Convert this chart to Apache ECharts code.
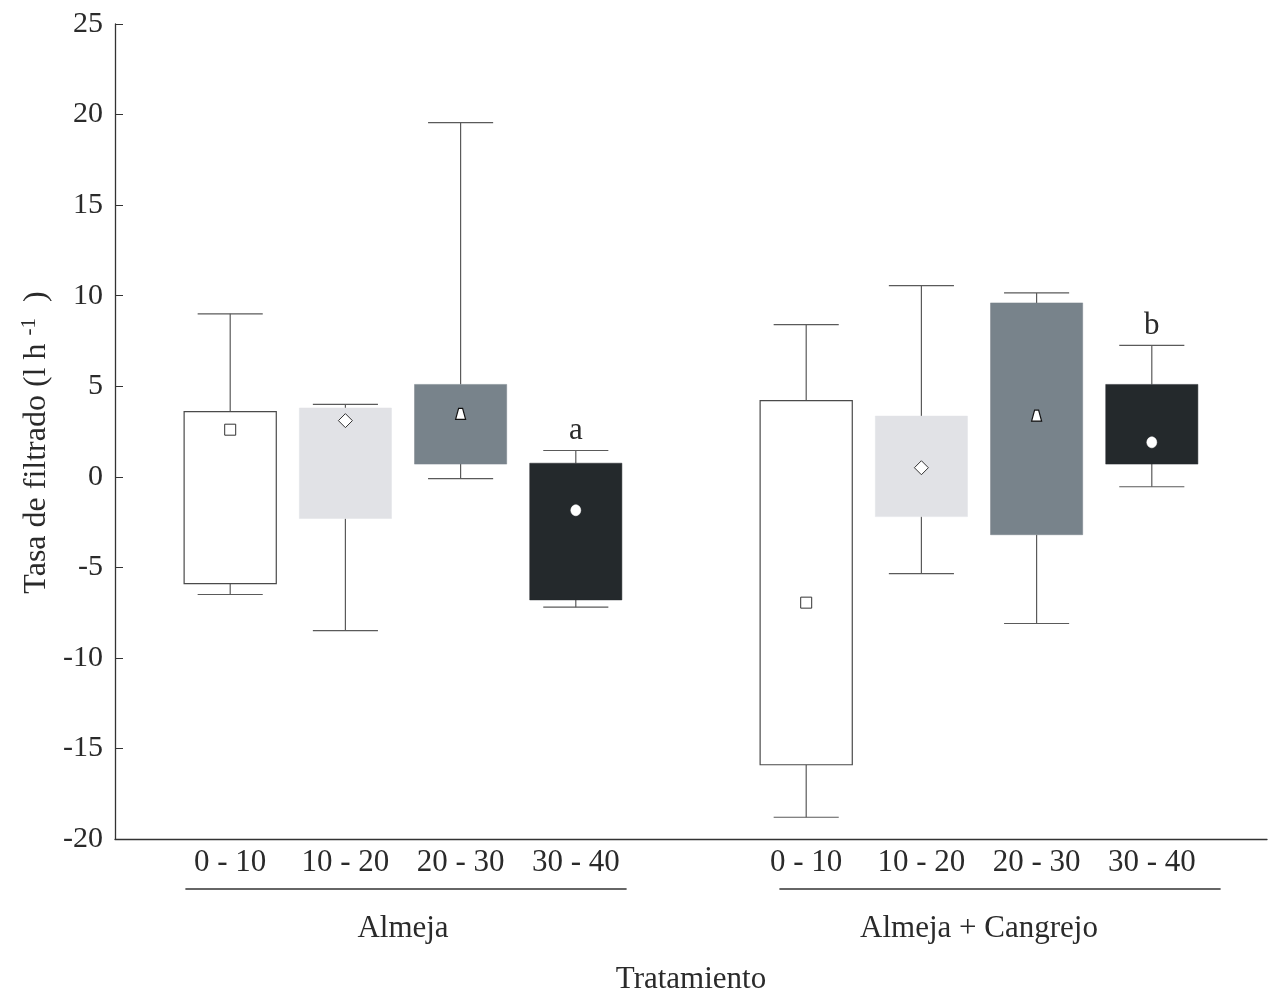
<!DOCTYPE html>
<html><head><meta charset="utf-8">
<script src="https://cdn.jsdelivr.net/npm/echarts@6/dist/echarts.min.js"></script>
<style>html,body{margin:0;padding:0;background:#fff}#c{width:1274px;height:994px}</style>
</head><body><div id="c"></div>
<script>
// ---- data ----
var groups = ['Almeja', 'Almeja + Cangrejo'];
var sizeClasses = ['0 - 10', '10 - 20', '20 - 30', '30 - 40'];
var yTickValues = [-20, -15, -10, -5, 0, 5, 10, 15, 20, 25];
// rows: groups, columns: size classes
var whiskerMin = [[-6.5, -8.5, -0.1, -7.2], [-18.8, -5.35, -8.1, -0.55]];
var boxQ1      = [[-5.9, -2.3, 0.7, -6.8], [-15.9, -2.2, -3.2, 0.7]];
var boxQ3      = [[3.6, 3.8, 5.1, 0.75], [4.2, 3.35, 9.6, 5.1]];
var whiskerMax = [[9.0, 4.0, 19.55, 1.45], [8.4, 10.55, 10.15, 7.25]];
var meanVals   = [[2.6, 3.1, 3.45, -1.85], [-6.95, 0.5, 3.35, 1.9]];
var sigLetters = [['', '', '', 'a'], ['', '', '', 'b']];

// ---- styles ----
var FONT = 'Liberation Serif';
var FS = 31;
var TXT = '#2a2a2a';
var fills = ['#ffffff', '#e1e2e6', '#78838b', '#24292c'];
var markerTypes = ['square', 'diamond', 'triangle', 'circle'];
var lineShift = [3, 21];

var chart = echarts.init(document.getElementById('c'), null, {renderer: 'canvas'});

function renderBox(params, api) {
  var ci = params.seriesIndex;
  var gi = api.value(0);
  var band = api.size([1, 0])[0];
  var cx = api.coord([gi, 0])[0] + (ci - 1.5) * 0.2 * band;
  var bw = band * 0.16, cw = band * 0.113;
  var yMin = api.coord([gi, api.value(1)])[1];
  var yQ1 = api.coord([gi, api.value(2)])[1];
  var yQ3 = api.coord([gi, api.value(3)])[1];
  var yMax = api.coord([gi, api.value(4)])[1];
  var yMean = api.coord([gi, api.value(5)])[1];
  var bottom = params.coordSys.y + params.coordSys.height;
  var wStyle = {stroke: '#5a5a5a', lineWidth: 1.2};
  var ch = [
    {type: 'line', shape: {x1: cx, y1: yMax, x2: cx, y2: yQ3}, style: wStyle},
    {type: 'line', shape: {x1: cx, y1: yQ1, x2: cx, y2: yMin}, style: wStyle},
    {type: 'line', shape: {x1: cx - cw / 2, y1: yMax, x2: cx + cw / 2, y2: yMax}, style: wStyle},
    {type: 'line', shape: {x1: cx - cw / 2, y1: yMin, x2: cx + cw / 2, y2: yMin}, style: wStyle},
    {type: 'rect', shape: {x: cx - bw / 2, y: yQ3, width: bw, height: yQ1 - yQ3},
      style: ci === 0 ? {fill: fills[ci], stroke: '#4a4a4a', lineWidth: 1.2} : {fill: fills[ci], stroke: fills[ci], lineWidth: 0.5}}
  ];
  var mStyle = {fill: '#fff', stroke: '#333', lineWidth: 1};
  var mt = markerTypes[ci];
  if (mt === 'square') {
    ch.push({type: 'rect', shape: {x: cx - 5.5, y: yMean - 5.5, width: 11, height: 11}, style: mStyle});
  } else if (mt === 'diamond') {
    ch.push({type: 'polygon', shape: {points: [[cx, yMean - 7], [cx + 7, yMean], [cx, yMean + 7], [cx - 7, yMean]]}, style: mStyle});
  } else if (mt === 'triangle') {
    ch.push({type: 'polygon', shape: {points: [[cx - 2, yMean - 6], [cx + 2, yMean - 6], [cx + 5, yMean + 5], [cx - 5, yMean + 5]]}, style: {fill: '#fff', stroke: '#111', lineWidth: 1.2}});
  } else {
    ch.push({type: 'ellipse', shape: {cx: cx, cy: yMean, rx: 5, ry: 5.5}, style: {fill: '#fff', stroke: '#fff', lineWidth: 0.5}});
  }
  var letter = sigLetters[gi][ci];
  if (letter) {
    ch.push({type: 'text', style: {text: letter, x: cx, y: yMax - 20, align: 'center', verticalAlign: 'middle',
      font: FS + 'px "' + FONT + '"', fill: TXT}});
  }
  ch.push({type: 'text', style: {text: sizeClasses[ci], x: cx, y: bottom + 24, align: 'center', verticalAlign: 'middle',
    font: FS + 'px "' + FONT + '"', fill: TXT}});
  return {type: 'group', children: ch};
}

function renderGroupLine(params, api) {
  var gi = api.value(0);
  var band = api.size([1, 0])[0];
  var c = api.coord([gi, 0])[0] + lineShift[gi];
  var half = band * 0.383;
  var y = params.coordSys.y + params.coordSys.height + 50;
  return {type: 'line', shape: {x1: c - half, y1: y, x2: c + half, y2: y}, style: {stroke: '#333', lineWidth: 1.3}};
}

var series = sizeClasses.map(function (sc, ci) {
  return {
    type: 'custom', name: sc, clip: false, renderItem: renderBox,
    encode: {x: 0, y: [1, 2, 3, 4, 5]},
    data: groups.map(function (g, gi) {
      return [gi, whiskerMin[gi][ci], boxQ1[gi][ci], boxQ3[gi][ci], whiskerMax[gi][ci], meanVals[gi][ci]];
    })
  };
});
series.push({type: 'custom', name: 'groupLines', clip: false, renderItem: renderGroupLine,
  encode: {x: 0}, data: groups.map(function (g, gi) { return [gi]; })});

chart.setOption({
  animation: false,
  backgroundColor: '#fff',
  grid: {left: 115, right: 7, top: 24, bottom: 155, containLabel: false, outerBoundsMode: 'none'},
  xAxis: {
    type: 'category', data: groups,
    axisLine: {onZero: false, lineStyle: {color: '#333', width: 1.3}},
    axisTick: {alignWithLabel: true, inside: true, length: 8, lineStyle: {color: '#777'}},
    axisLabel: {margin: 74, fontFamily: FONT, fontSize: FS, color: TXT},
    splitLine: {show: false},
    name: 'Tratamiento', nameLocation: 'middle', nameGap: 125,
    nameTextStyle: {fontFamily: FONT, fontSize: FS, color: TXT}
  },
  yAxis: {
    type: 'value', min: -20, max: 25, interval: 5,
    axisLine: {show: true, lineStyle: {color: '#333', width: 1.3}},
    axisTick: {show: true, inside: true, length: 8, lineStyle: {color: '#333'}},
    axisLabel: {margin: 12, fontFamily: FONT, fontSize: 30, color: TXT,
      formatter: function (v) { return yTickValues.indexOf(v) >= 0 ? String(v) : ''; }},
    splitLine: {show: false},
    name: '{n|Tasa de filtrado (l h }{sup|-1}{n|  )}',
    nameLocation: 'middle', nameGap: 59,
    nameTextStyle: {fontFamily: FONT, fontSize: 32, color: TXT, padding: [0, 22, 0, 0],
      rich: {
        n: {fontFamily: FONT, fontSize: 32, color: TXT, lineHeight: 34},
        sup: {fontFamily: FONT, fontSize: 21, color: TXT, lineHeight: 34, verticalAlign: 'top', padding: [0, 0, 12, 0]}
      }}
  },
  series: series
});
</script>
</body></html>
